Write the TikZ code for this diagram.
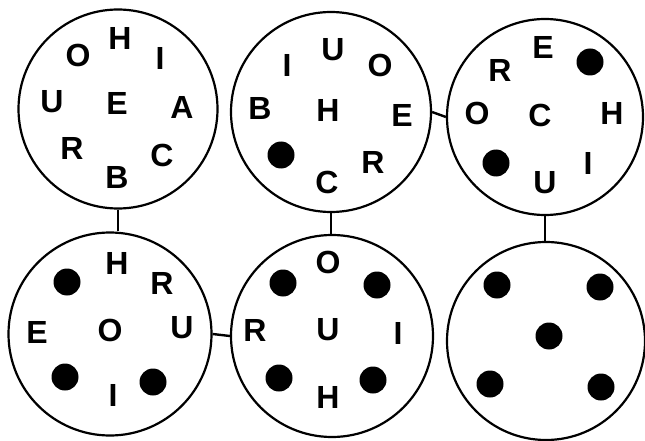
\documentclass[tikz,border=0pt]{standalone}
\usepackage{fontspec}
\setmainfont{Liberation Sans}
\begin{document}
\begin{tikzpicture}[x=1pt,y=-1pt,
  dial/.style={circle,draw,line width=2.2pt,inner sep=0pt},
  lt/.style={inner sep=0pt,font=\fontsize{32}{32}\selectfont\bfseries},
  dot/.style={circle,fill,inner sep=0pt,minimum size=27pt},
  link/.style={line width=2.4pt}]
\useasboundingbox (0,0) rectangle (645,441);
% dials
\node[dial,minimum size=199pt] (c1) at (118,109) {};
\node[dial,minimum size=200pt] (c2) at (331,112) {};
\node[dial,minimum size=196pt] (c3) at (545,117) {};
\node[dial,minimum size=203pt] (c4) at (110,334) {};
\node[dial,minimum size=202pt] (c5) at (332,336) {};
\node[dial,minimum size=198pt] (c6) at (546,341) {};
% connectors
\draw[link] (c2.east) -- (c3.west);
\draw[link] (c4.east) -- (c5.west);
\draw[link] (c1.south) -- (c1.south |- c4.north);
\draw[link] (c2.south) -- (c2.south |- c5.north);
\draw[link] (c3.south) -- (c3.south |- c6.north);
% circle 1
\node[lt] (a1) at (78,55) {O};
\node[lt] (a2) at (120,38) {H};
\node[lt] (a3) at (160,58) {I};
\node[lt] (a4) at (52,102) {U};
\node[lt] (a5) at (117,103) {E};
\node[lt] (a6) at (182,107) {A};
\node[lt] (a7) at (72,148) {R};
\node[lt] (a8) at (162,155) {C};
\node[lt] (a9) at (117,177) {B};
% circle 2
\node[lt] (b1) at (287,65) {I};
\node[lt] (b2) at (333,50) {U};
\node[lt] (b3) at (380,65) {O};
\node[lt] (b4) at (260,108) {B};
\node[lt] (b5) at (328,110) {H};
\node[lt] (b6) at (402,115) {E};
\node[dot] (b7) at (281,155) {};
\node[lt] (b8) at (327,182) {C};
\node[lt] (b9) at (373,162) {R};
% circle 3
\node[lt] (d1) at (543,47) {E};
\node[lt] (d2) at (500,70) {R};
\node[dot] (d3) at (590,62) {};
\node[lt] (d4) at (477,113) {O};
\node[lt] (d5) at (540,115) {C};
\node[lt] (d6) at (612,113) {H};
\node[dot] (d7) at (496,163) {};
\node[lt] (d8) at (545,183) {U};
\node[lt] (d9) at (588,163) {I};
% circle 4
\node[dot] (e1) at (67,282) {};
\node[lt] (e2) at (117,263) {H};
\node[lt] (e3) at (162,283) {R};
\node[lt] (e4) at (37,332) {E};
\node[lt] (e5) at (110,330) {O};
\node[lt] (e6) at (182,328) {U};
\node[dot] (e7) at (65,377) {};
\node[lt] (e8) at (113,395) {I};
\node[dot] (e9) at (153,382) {};
% circle 5
\node[lt] (f1) at (328,262) {O};
\node[dot] (f2) at (283,283) {};
\node[dot] (f3) at (377,285) {};
\node[lt] (f4) at (255,330) {R};
\node[lt] (f5) at (328,330) {U};
\node[lt] (f6) at (398,333) {I};
\node[dot] (f7) at (279,378) {};
\node[lt] (f8) at (328,397) {H};
\node[dot] (f9) at (373,380) {};
% circle 6
\node[dot] (g1) at (497,285) {};
\node[dot] (g2) at (600,287) {};
\node[dot] (g3) at (549,336) {};
\node[dot] (g4) at (490,384) {};
\node[dot] (g5) at (601,387) {};
\end{tikzpicture}
\end{document}
